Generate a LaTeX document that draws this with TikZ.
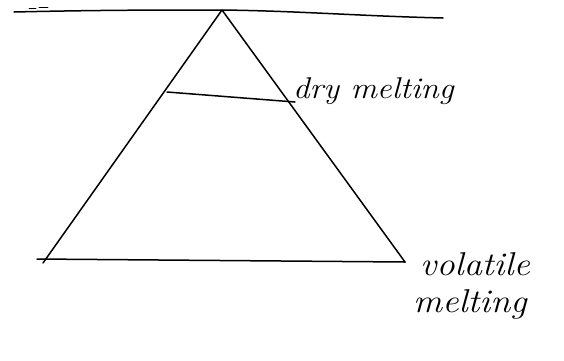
\documentclass[tikz,border=0pt]{standalone}
\usepackage{tikz}
\begin{document}
\begin{tikzpicture}[x=1pt,y=-1pt,
  pen/.style={line width=1.5pt, line cap=round, line join=round, black},
  hand/.style={font=\fontsize{30}{30}\selectfont\itshape, inner sep=0pt, anchor=base west, xscale=1.1, transform shape},
  bighand/.style={hand, font=\fontsize{33}{33}\selectfont\itshape}]
\useasboundingbox (0,0) rectangle (564,360);
\fill[white] (0,0) rectangle (564,360);
% key points
\coordinate (apex) at (222,10);
\coordinate (bl) at (43,263);
\coordinate (br) at (405,262);
\coordinate (tl) at (14,12);
\coordinate (tr) at (443,18);
\coordinate (dl) at (167,92);
\coordinate (dr) at (295,102);
% top line
\draw[pen] (tl) .. controls (100,10) and (160,10) .. (apex) .. controls (300,11) and (360,16) .. (tr);
\draw[pen, line width=0.8pt] (29,8) -- (36,8);
\draw[pen, line width=0.8pt] (39,7) -- (48,7);
% triangle
\draw[pen] (bl) -- (apex) -- (br);
\draw[pen] (37,259) -- (br);
% dry melting line
\draw[pen] (dl) -- (dr);
% labels
\node[hand] (dry) at (293,98) {dry melting};
\node[bighand] (vol) at (420,275) {volatile};
\node[bighand] (mel) at (413,312) {melting};
\end{tikzpicture}
\end{document}
